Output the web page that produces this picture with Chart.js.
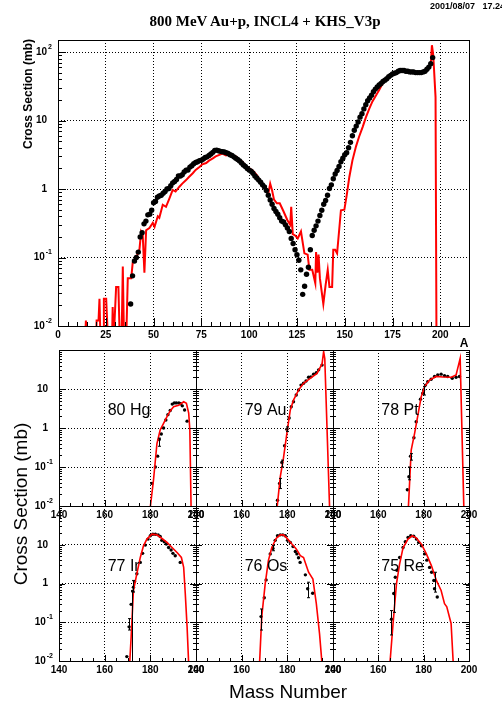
<!DOCTYPE html>
<html>
<head>
<meta charset="utf-8">
<script src="https://cdn.jsdelivr.net/npm/chart.js@4.4.0/dist/chart.umd.min.js"></script>
<style>
  html, body { margin: 0; padding: 0; background: #fff; }
  #wrap { position: relative; width: 502px; height: 702px; overflow: hidden; background: #fff; }
  #wrap canvas { position: absolute; left: 0; top: 0; }
  .txt { position: absolute; white-space: nowrap; color: #000; font-family: "Liberation Sans", Arial, sans-serif; line-height: 1; }
  .rot { transform: translate(-50%, -50%) rotate(-90deg); }
  .ctr { transform: translate(-50%, -50%); }
</style>
</head>
<body>
<div id="wrap">
  <canvas id="cTop" width="502" height="702"></canvas>
  <canvas id="cHg" width="502" height="702"></canvas>
  <canvas id="cAu" width="502" height="702"></canvas>
  <canvas id="cPt" width="502" height="702"></canvas>
  <canvas id="cIr" width="502" height="702"></canvas>
  <canvas id="cOs" width="502" height="702"></canvas>
  <canvas id="cRe" width="502" height="702"></canvas>

  <div class="txt" style="left:430px;top:2px;font-size:9px;font-weight:bold;">2001/08/07&nbsp;&nbsp;&nbsp;17.24</div>
  <div class="txt ctr" style="left:265px;top:21px;font-family:'Liberation Serif',serif;font-size:15px;font-weight:bold;">800 MeV Au+p, INCL4 + KHS_V3p</div>
  <div class="txt rot" style="left:28px;top:94px;font-size:12px;font-weight:bold;">Cross Section (mb)</div>
  <div class="txt ctr" style="left:464px;top:343px;font-size:12px;font-weight:bold;">A</div>
  <div class="txt rot" style="left:20px;top:504px;font-size:19px;">Cross Section (mb)</div>
  <div class="txt ctr" style="left:288px;top:691px;font-size:19px;">Mass Number</div>
</div>

<script>
// ---- top panel: mass distribution, data (dots) vs INCL4 + KHS_V3p (red) ----
const topExpA = [38, 39, 40, 41, 42, 43, 44, 45, 46, 47, 48, 49, 50, 51, 52, 53, 54, 55, 56, 57,
  58, 59, 60, 61, 62, 63, 64, 65, 66, 67, 68, 69, 70, 71, 72, 73, 74, 75, 76, 77,
  78, 79, 80, 81, 82, 83, 84, 85, 86, 87, 88, 89, 90, 91, 92, 93, 94, 95, 96, 97,
  98, 99, 100, 101, 102, 103, 104, 105, 106, 107, 108, 109, 110, 111, 112, 113, 114, 115, 116, 117,
  118, 119, 120, 121, 122, 123, 124, 125, 126, 127, 128, 129, 130, 131, 132, 133, 134, 135, 136, 137,
  138, 139, 140, 141, 142, 143, 144, 145, 146, 147, 148, 149, 150, 151, 152, 153, 154, 155, 156, 157,
  158, 159, 160, 161, 162, 163, 164, 165, 166, 167, 168, 169, 170, 171, 172, 173, 174, 175, 176, 177,
  178, 179, 180, 181, 182, 183, 184, 185, 186, 187, 188, 189, 190, 191, 192, 193, 194, 195, 196];
const topExpS = [0.021, 0.054, 0.089, 0.10, 0.12, 0.20, 0.23, 0.31, 0.34, 0.42, 0.43, 0.49, 0.63, 0.66, 0.76, 0.79, 0.81, 0.87, 0.92, 1.0,
  1.02, 1.12, 1.23, 1.29, 1.38, 1.55, 1.55, 1.62, 1.78, 1.89, 1.9, 2.09, 2.19, 2.34, 2.45, 2.5, 2.6, 2.63, 2.75, 2.88,
  2.95, 3.1, 3.24, 3.43, 3.67, 3.7, 3.63, 3.55, 3.5, 3.47, 3.4, 3.3, 3.16, 3.1, 2.95, 2.82, 2.7, 2.57, 2.4, 2.24,
  2.14, 2.0, 1.89, 1.82, 1.7, 1.55, 1.45, 1.35, 1.26, 1.15, 1.07, 0.95, 0.81, 0.69, 0.60, 0.52, 0.47, 0.43, 0.38, 0.34,
  0.33, 0.30, 0.27, 0.24, 0.19, 0.16, 0.13, 0.11, 0.091, 0.066, 0.029, 0.038, 0.057, 0.072, 0.13, 0.21, 0.25, 0.29, 0.34, 0.41,
  0.49, 0.6, 0.68, 0.81, 1.02, 1.15, 1.41, 1.66, 1.86, 2.14, 2.5, 2.82, 3.16, 3.4, 4.0, 4.8, 6.0, 7.2, 8.3, 9.5,
  11.2, 12.6, 14.8, 17, 19.5, 21.4, 23.4, 26.3, 28.8, 30.9, 33.1, 34.7, 37.2, 38.9, 40.7, 43.7, 45.7, 47.9, 49, 50.1,
  52.5, 53.7, 53.7, 53.7, 52.5, 52.5, 51.3, 51.3, 51.3, 50.1, 50.1, 50.1, 50.1, 51.3, 52.5, 56.2, 60.3, 67.6, 83];
const topModA = [14, 14.6, 15.2, 19.8, 20.2, 21.2, 21.7, 22.3, 23.6, 24.0, 25.2, 25.7, 26.3, 28.2, 28.6, 29.1, 29.6, 30.4, 31.6, 32.4,
  33.2, 33.9, 34.6, 35.6, 36.5, 38.3, 39.1, 40.9, 42.6, 43.5, 44.3, 45.2, 46.1, 47.8, 49.6, 50.5, 52.2, 53, 54.8, 56.5,
  58.3, 60, 61.5, 63.5, 65, 67, 68.5, 70.5, 72, 74, 75.5, 77.5, 79, 81, 82.5, 84.4, 86, 87.9, 89.5, 91.4,
  93, 94.9, 96.5, 98.4, 100.1, 102, 104, 106, 108, 110, 111, 112, 113, 114.5, 116, 118, 120, 121.5, 122, 122.8,
  124, 125.4, 127.1, 128.9, 130.6, 131.5, 133, 134.6, 135, 135.7, 136.3, 137, 138.8, 140, 141.1, 142, 143.4, 144, 145, 146,
  148, 149.8, 151, 152.4, 154, 155.9, 157.5, 159.4, 161, 162.9, 164.5, 166.4, 168, 169.8, 171.5, 173.3, 175, 176.8, 178.5, 180.3,
  183, 185.5, 188, 190.7, 192, 193.4, 194.5, 195.1, 195.6, 196.3, 197.5, 198];
const topModS = [0.005, 0.012, 0.005, 0.005, 0.012, 0.012, 0.025, 0.005, 0.005, 0.025, 0.025, 0.012, 0.005, 0.005, 0.019, 0.005, 0.012, 0.037, 0.037, 0.005,
  0.005, 0.074, 0.005, 0.005, 0.05, 0.05, 0.085, 0.1, 0.13, 0.24, 0.22, 0.06, 0.25, 0.27, 0.32, 0.28, 0.40, 0.38, 0.59, 0.55,
  0.73, 0.97, 0.92, 1.08, 1.2, 1.35, 1.5, 1.7, 1.9, 2.1, 2.3, 2.4, 2.6, 2.8, 3.0, 3.16, 3.3, 3.1, 3.2, 2.95,
  3.0, 2.63, 2.5, 2.14, 2.0, 1.85, 1.6, 1.3, 1.1, 0.85, 1.2, 0.95, 0.7, 0.62, 0.62, 0.47, 0.35, 0.3, 0.55, 0.22,
  0.21, 0.19, 0.24, 0.115, 0.11, 0.066, 0.066, 0.042, 0.12, 0.06, 0.11, 0.05, 0.021, 0.04, 0.066, 0.037, 0.037, 0.13, 0.13, 0.115,
  0.49, 0.5, 0.8, 1.5, 2.6, 4.2, 5.8, 8.1, 11, 15.1, 19, 23.4, 28, 34.7, 39, 43.7, 46.8, 50.1, 52, 53.7,
  53, 51.3, 50.5, 50.1, 51, 56, 65, 72, 126, 90, 22, 0.005];
const topXTicks = [0, 25, 50, 75, 100, 125, 150, 175, 200];
const topYTicks = [0.01, 0.1, 1, 10, 100];

// ---- isotopic panels (Z = 80 ... 75) ----
const panelXTicks = [140, 160, 180, 200];
const panelYTicks = [0.01, 0.1, 1, 10];

const hgExpA = [180.7, 182.2, 183.2, 183.9, 184.8, 185.8, 186.8, 187.7, 188.7, 189.6, 190.5, 191.4, 192.5, 193.3, 194, 195, 196.1];
const hgExpS = [0.038, 0.10, 0.19, 0.51, 0.7, 1.0, 1.6, 2.2, 2.8, 4.1, 4.4, 4.4, 4.4, 4.2, 3.7, 2.9, 1.5];
const hgModA = [179.6, 181.4, 182.9, 184.3, 185.8, 187.3, 188.7, 190.2, 192.4, 194.6, 195.8, 196.8, 197.3, 197.9];
const hgModS = [0.006, 0.047, 0.4, 0.89, 1.32, 1.95, 2.75, 3.5, 3.8, 4.7, 4.3, 2.4, 0.9, 0.006];
const hgErrA = [183.9], hgErrLo = [0.34], hgErrHi = [0.55];

const auExpA = [175.7, 176.6, 177.6, 178.8, 179.8, 180.8, 181.7, 182.7, 183.9, 184.9, 186, 187.1, 188.2, 189.3, 190.3, 191.5, 192.7, 193.7, 195.2];
const auExpS = [0.014, 0.038, 0.13, 0.35, 0.93, 1.8, 3.5, 4.7, 7, 9.4, 12.6, 14, 16, 20, 20.5, 24, 26, 31, 41];
const auModA = [175.2, 176.9, 178.3, 179.8, 181.3, 182.7, 184.9, 187.1, 190, 193, 195.2, 195.9, 196.4, 198.6];
const auModS = [0.006, 0.056, 0.17, 0.73, 2.9, 5.2, 9.4, 14, 18.7, 25, 44, 91, 60, 0.006];
const auErrA = [176.6, 177.6, 179.8], auErrLo = [0.028, 0.10, 0.81], auErrHi = [0.051, 0.15, 1.07];

const ptExpA = [172.8, 173.5, 174.2, 175.7, 176.7, 178.6, 179.6, 180, 180.8, 181.8, 183.3, 184.8, 186.2, 187.7, 189.2, 190.6, 192.6, 194.3, 195.8];
const ptExpS = [0.026, 0.056, 0.19, 0.56, 1.45, 5.5, 7.8, 9.4, 12.6, 15.4, 17.8, 21, 23, 24, 22, 21, 18.8, 20, 21];
const ptModA = [173.1, 174.5, 176, 177.5, 178.9, 180.4, 182.6, 185.5, 188.5, 192.2, 194.3, 196.1, 197.8];
const ptModS = [0.006, 0.27, 0.73, 2.2, 6.3, 11.4, 17, 21, 20.4, 20, 23, 61, 0.006];
const ptErrA = [173.5, 174.2, 180], ptErrLo = [0.047, 0.15, 7], ptErrHi = [0.10, 0.22, 11.5];

const irExpA = [169.7, 170.7, 171.6, 172.3, 172.6, 173.1, 174.1, 175.6, 176.6, 177.8, 179, 180, 181.1, 182.2, 183.4, 184.3, 185, 186.1, 187, 188, 189.1, 189.9, 190.9, 193.1];
const irExpS = [0.013, 0.076, 0.29, 0.63, 0.8, 1.12, 1.78, 3.5, 6, 9.8, 14, 17, 18.7, 18.7, 18, 16.3, 13, 12, 10.5, 8.5, 7.3, 6, 5.2, 3.5];
const irModA = [170.8, 171.6, 172.6, 174.1, 175.6, 177, 178.5, 180.7, 182.9, 185.1, 187.3, 189.5, 191.7, 193.6, 194.6, 195.3, 196.1, 196.9];
const irModS = [0.006, 0.042, 0.66, 1.8, 4.7, 9.4, 14, 18.7, 18, 14.5, 11.5, 8.5, 6.3, 4.7, 2.6, 0.55, 0.076, 0.006];
const irErrA = [170.7, 171.9, 172.6], irErrLo = [0.063, 0.005, 0.6], irErrHi = [0.124, 0.65, 1.2];

const osExpA = [168.5, 169.9, 170.7, 172.5, 173.7, 174.7, 175.7, 176.9, 178, 179.1, 180.1, 181.3, 182.5, 183.5, 184.2, 184.9, 185.6, 187.9, 188.9, 191.1];
const osExpS = [0.14, 0.43, 1.24, 5.8, 8, 13, 17, 18, 18, 17, 13, 11.5, 9, 6.7, 5.8, 4.6, 3.5, 1.67, 0.73, 0.56];
const osModA = [167.7, 168.8, 170.3, 171.7, 173.2, 175.1, 176.9, 178.3, 179.8, 182, 183.9, 185.7, 187.1, 189.3, 191.2, 192.7, 194.1, 195.4];
const osModS = [0.006, 0.14, 0.98, 3.9, 8.5, 14.5, 18, 18, 14.8, 10.4, 7.8, 5.2, 4.7, 1.95, 1.3, 0.3, 0.051, 0.006];
const osErrA = [168.5, 173.7, 188.9], osErrLo = [0.063, 7, 0.43], osErrHi = [0.22, 9.5, 1.08];

const reExpA = [165.8, 166.8, 167.5, 168.2, 169.4, 170.9, 171.9, 173.1, 174.3, 175.6, 176.8, 177.8, 179, 180.4, 181.4, 182.6, 183.5, 184.5, 184.8, 186];
const reExpS = [0.12, 0.55, 1.45, 2.2, 4.7, 8.5, 12, 15.4, 17, 16.5, 14, 11.5, 9.4, 5.8, 4, 2.6, 1.95, 1.2, 0.73, 0.45];
const reModA = [164.9, 166.5, 168, 169.4, 170.9, 173.1, 175, 176.8, 179, 181.2, 183.4, 185.6, 187.7, 189.2, 190.2, 192.1, 193.2];
const reModS = [0.006, 0.093, 0.98, 3.2, 8.3, 14, 17, 14.8, 10.4, 5.8, 2.9, 1.2, 0.66, 0.3, 0.25, 0.093, 0.006];
const reErrA = [165.8, 166.8, 184.8], reErrLo = [0.047, 0.18, 0.6], reErrHi = [0.2, 0.98, 1.95];

const FONT = '"Liberation Sans", Arial, sans-serif';
const W = 502, H = 702, XAXIS_H = 20;

// layout of every pad: [left, top, right, bottom] of the plot frame
const COLS = [[59, 196], [196, 333], [333, 469]];
const ROWS = [[350, 506], [506, 661]];

function small(col, row, name, expA, expS, modA, modS, errA, errLo, errHi) {
  return {
    area: [COLS[col][0], ROWS[row][0], COLS[col][1], ROWS[row][1]],
    xMin: 140, xMax: 200, yMin: 0.01, yMax: 100,
    xTicks: panelXTicks, yTicks: panelYTicks,
    xMinor: 5, xMajor: 20, majLen: 6, minLen: 3,
    yLabels: col === 0, rightTicks: true,
    expA, expS, modA, modS, errA, errLo, errHi,
    dot: 1.7, lw: 1.6, dotsOnTop: false,
    name, nameX: 161.3, nameY: 2.73,
  };
}

const PADS = {
  cTop: {
    area: [58, 40, 469, 326],
    xMin: 0, xMax: 215, yMin: 0.01, yMax: 150,
    xTicks: topXTicks, yTicks: topYTicks,
    xMinor: 5, xMajor: 25, majLen: 8, minLen: 4,
    yLabels: true, rightTicks: false,
    expA: topExpA, expS: topExpS, modA: topModA, modS: topModS,
    dot: 2.7, lw: 2, dotsOnTop: true,
  },
  cHg: small(0, 0, '80 Hg', hgExpA, hgExpS, hgModA, hgModS, hgErrA, hgErrLo, hgErrHi),
  cAu: small(1, 0, '79 Au', auExpA, auExpS, auModA, auModS, auErrA, auErrLo, auErrHi),
  cPt: small(2, 0, '78 Pt', ptExpA, ptExpS, ptModA, ptModS, ptErrA, ptErrLo, ptErrHi),
  cIr: small(0, 1, '77 Ir', irExpA, irExpS, irModA, irModS, irErrA, irErrLo, irErrHi),
  cOs: small(1, 1, '76 Os', osExpA, osExpS, osModA, osModS, osErrA, osErrLo, osErrHi),
  cRe: small(2, 1, '75 Re', reExpA, reExpS, reModA, reModS, reErrA, reErrLo, reErrHi),
};

function zeroPadding(s) {
  s.paddingLeft = s.paddingRight = s.paddingTop = s.paddingBottom = 0;
}

function isDecade(v) {
  const l = Math.log10(v);
  return Math.abs(l - Math.round(l)) < 1e-6;
}

// ROOT-like frame, inward ticks, 10^n labels, error bars, pad name
const rootStyle = {
  id: 'rootStyle',
  afterDatasetsDraw(chart) {
    const c = PADS[chart.canvas.id];
    if (!c.errA) return;
    const { ctx, chartArea: a, scales: { x, y } } = chart;
    ctx.save();
    ctx.beginPath();
    ctx.rect(a.left, a.top, a.right - a.left, a.bottom - a.top);
    ctx.clip();
    ctx.strokeStyle = '#000';
    ctx.lineWidth = 1;
    ctx.beginPath();
    c.errA.forEach((v, i) => {
      const px = Math.round(x.getPixelForValue(v)) + 0.5;
      const p1 = y.getPixelForValue(c.errLo[i]);
      const p2 = y.getPixelForValue(c.errHi[i]);
      ctx.moveTo(px, p1); ctx.lineTo(px, p2);
      ctx.moveTo(px - 1.5, p1); ctx.lineTo(px + 1.5, p1);
      ctx.moveTo(px - 1.5, p2); ctx.lineTo(px + 1.5, p2);
    });
    ctx.stroke();
    ctx.restore();
  },
  afterDraw(chart) {
    const c = PADS[chart.canvas.id];
    const { ctx, chartArea: a, scales: { x, y } } = chart;
    const L = Math.round(a.left), T = Math.round(a.top), R = Math.round(a.right), B = Math.round(a.bottom);
    ctx.save();
    ctx.strokeStyle = '#000';
    ctx.fillStyle = '#000';
    ctx.lineWidth = 1;
    ctx.strokeRect(L + 0.5, T + 0.5, R - L, B - T);

    ctx.beginPath();
    for (let v = c.xMin; v <= c.xMax + 1e-6; v += c.xMinor) {
      const px = Math.round(x.getPixelForValue(v)) + 0.5;
      const major = Math.abs(v / c.xMajor - Math.round(v / c.xMajor)) < 1e-6;
      ctx.moveTo(px, B);
      ctx.lineTo(px, B - (major ? c.majLen : c.minLen));
    }
    for (let e = -2; e <= 2; e++) {
      for (let k = 1; k <= 9; k++) {
        const v = k * Math.pow(10, e);
        if (v < c.yMin * 0.999 || v > c.yMax * 1.001) continue;
        const py = Math.round(y.getPixelForValue(v)) + 0.5;
        const len = k === 1 ? c.majLen : c.minLen;
        ctx.moveTo(L, py); ctx.lineTo(L + len, py);
        if (c.rightTicks) { ctx.moveTo(R, py); ctx.lineTo(R - len, py); }
      }
    }
    ctx.stroke();

    if (c.yLabels) {
      ctx.textBaseline = 'middle';
      ctx.textAlign = 'right';
      c.yTicks.forEach((v) => {
        const py = y.getPixelForValue(v);
        const e = Math.round(Math.log10(v));
        if (e === 0 || e === 1) {
          ctx.font = 'bold 10px ' + FONT;
          ctx.fillText(e === 0 ? '1' : '10', L - 11, py);
        } else {
          const sup = String(e);
          ctx.font = 'bold 7px ' + FONT;
          const sw = ctx.measureText(sup).width;
          ctx.fillText(sup, L - 6, py - 5);
          ctx.font = 'bold 10px ' + FONT;
          ctx.fillText('10', L - 7 - sw, py);
        }
      });
    }

    if (c.name) {
      ctx.font = '16px ' + FONT;
      ctx.textAlign = 'left';
      ctx.textBaseline = 'middle';
      ctx.fillText(c.name, x.getPixelForValue(c.nameX), y.getPixelForValue(c.nameY));
    }
    ctx.restore();
  },
};

function points(xs, ys) {
  return xs.map((v, i) => ({ x: v, y: ys[i] }));
}

function makePad(id) {
  const c = PADS[id];
  const [left, top, right, bottom] = c.area;
  const dotted = { display: false, dash: [1, 2] };
  return new Chart(document.getElementById(id), {
    type: 'line',
    data: {
      datasets: [
        {
          label: 'data',
          data: points(c.expA, c.expS),
          showLine: false,
          pointRadius: c.dot,
          pointBackgroundColor: '#000',
          pointBorderWidth: 0,
          order: c.dotsOnTop ? 0 : 1,
        },
        {
          label: 'INCL4 + KHS_V3p',
          data: points(c.modA, c.modS),
          borderColor: '#ff0000',
          borderWidth: c.lw,
          pointRadius: 0,
          tension: 0,
          order: c.dotsOnTop ? 1 : 0,
        },
      ],
    },
    options: {
      responsive: false,
      animation: false,
      events: [],
      layout: { padding: { left: 0, top: top, right: W - right, bottom: H - bottom - XAXIS_H } },
      plugins: { legend: { display: false }, tooltip: { enabled: false } },
      scales: {
        x: {
          type: 'linear',
          min: c.xMin,
          max: c.xMax,
          afterBuildTicks: (s) => { s.ticks = c.xTicks.map((v) => ({ value: v })); },
          afterFit: (s) => { s.height = XAXIS_H; zeroPadding(s); },
          ticks: {
            color: '#000',
            font: { family: FONT, size: 10, weight: 'bold' },
            padding: 3,
            maxRotation: 0,
            autoSkip: false,
          },
          grid: { color: '#000', lineWidth: 1, drawTicks: false },
          border: dotted,
        },
        y: {
          type: 'logarithmic',
          min: c.yMin,
          max: c.yMax,
          afterBuildTicks: (s) => { s.ticks = c.yTicks.map((v) => ({ value: v })); },
          afterFit: (s) => { s.width = left; zeroPadding(s); },
          ticks: { display: false },
          grid: {
            color: (ctx) => (ctx.tick && isDecade(ctx.tick.value) ? '#000' : 'rgba(0,0,0,0)'),
            lineWidth: 1,
            drawTicks: false,
          },
          border: dotted,
        },
      },
    },
    plugins: [rootStyle],
  });
}

Object.keys(PADS).forEach(makePad);
</script>
</body>
</html>
